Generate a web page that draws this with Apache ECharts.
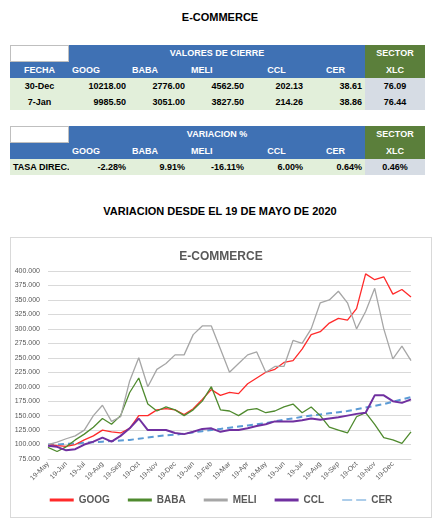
<!DOCTYPE html>
<html><head><meta charset="utf-8">
<script src="https://cdn.jsdelivr.net/npm/echarts@6/dist/echarts.min.js"></script>
<style>
body{margin:0;width:440px;height:527px;background:#fff;position:relative;font-family:"Liberation Sans",Arial,sans-serif;overflow:hidden}
.t{position:absolute;left:0;width:440px;text-align:center;font-weight:bold;font-size:11px;color:#000}
.c{position:absolute;box-sizing:border-box;font-weight:bold;font-size:9px;line-height:16px;white-space:nowrap;padding:0 3px}
#chart{position:absolute;left:10px;top:237px;width:422px;height:281px;border:1px solid #d9d9d9;box-sizing:border-box}
</style></head><body>
<div class="t" style="top:11px">E-COMMERCE</div>
<div class="t" style="top:205px">VARIACION DESDE EL 19 DE MAYO DE 2020</div>
<div id="tables"></div>
<div id="chart"></div>
<script>
const tickers=["GOOG","BABA","MELI","CCL","CER"];
const closeDates=["30-Dec","7-Jan"];
const closeVals=[["10218.00","2776.00","4562.50","202.13","38.61"],["9985.50","3051.00","3827.50","214.26","38.86"]];
const xlcVals=["76.09","76.44"];
const varVals=["-2.28%","9.91%","-16.11%","6.00%","0.64%"];
const xlcVar="0.46%";

const categories=["19-May","4-Jun","19-Jun","4-Jul","19-Jul","4-Aug","19-Aug","4-Sep","19-Sep","4-Oct","19-Oct","4-Nov","19-Nov","4-Dec","19-Dec","4-Jan","19-Jan","4-Feb","19-Feb","4-Mar","19-Mar","4-Apr","19-Apr","4-May","19-May","4-Jun","19-Jun","4-Jul","19-Jul","4-Aug","19-Aug","4-Sep","19-Sep","4-Oct","19-Oct","4-Nov","19-Nov","4-Dec","19-Dec","4-Jan","7-Jan"];
const goog=[100,98,97,100,108,115,125,122,120,128,150,150,160,162,160,152,162,178,195,185,190,188,205,215,225,230,242,245,265,290,295,310,318,315,335,395,385,390,360,368,355];
const baba=[95,88,96,108,118,130,145,135,150,190,215,170,158,165,160,150,160,175,200,160,158,150,160,162,155,158,165,170,155,165,150,130,125,120,148,155,135,112,108,102,122];
const meli=[100,104,110,115,125,150,168,140,148,210,250,200,230,240,255,255,290,305,305,265,225,240,255,260,225,235,235,280,275,300,345,350,365,345,300,330,370,300,248,270,245];
const ccl=[98,96,90,92,100,105,112,105,115,128,145,125,125,125,120,118,122,127,128,122,125,125,128,132,135,140,140,140,142,145,143,145,147,150,153,155,185,185,175,172,178];
const cer=[100,100,101,102,103,104,105,106,107,108,110,112,114,116,117,119,121,123,125,127,129,131,133,135,137,140,143,145,148,150,152,154,156,158,161,164,167,170,174,178,182];

const BLUE="#3f71b4",GREEN="#5b7f3b",LG="#e2efda",GR="#d6dce4";
const colX=[10,69,129,188,247,306,365,425];
const T=document.getElementById('tables');
function cell(ci,ce,y,h,txt,bg,col,align,border){
  const d=document.createElement('div');d.className='c';
  d.style.left=colX[ci]+'px';d.style.width=(colX[ce]-colX[ci])+'px';
  d.style.top=y+'px';d.style.height=h+'px';d.style.lineHeight=h+'px';
  d.style.background=bg;d.style.color=col;d.style.textAlign=align;
  if(border)d.style.border='1px solid #bfbfbf';
  d.textContent=txt;T.appendChild(d);
}
function header(y,title){
  cell(0,1,y,17,"","#fff","#000","center",true);
  cell(1,6,y,17,title,BLUE,"#fff","center");
  cell(6,7,y,17,"SECTOR",GREEN,"#fff","center");
  cell(0,1,y+17,16,y<100?"FECHA":"",BLUE,"#fff","center");
  tickers.forEach((t,i)=>cell(i+1,i+2,y+17,16,t,BLUE,"#fff",i<3?"left":"center"));
  cell(6,7,y+17,16,"XLC",GREEN,"#fff","center");
}
header(45,"VALORES DE CIERRE");
closeDates.forEach((d,r)=>{
  const y=78+r*16;
  cell(0,1,y,16,d,LG,"#000","center");
  closeVals[r].forEach((v,i)=>cell(i+1,i+2,y,16,v,LG,"#000","right"));
  cell(6,7,y,16,xlcVals[r],GR,"#000","center");
});
header(126,"VARIACION %");
cell(0,1,159,16,"TASA DIREC.",LG,"#000","left");
varVals.forEach((v,i)=>cell(i+1,i+2,159,16,v,LG,"#000","right"));
cell(6,7,159,16,xlcVar,GR,"#000","center");

const ch=echarts.init(document.getElementById('chart'));
const mk=(name,data,color,w,dash)=>({name,type:'line',data,showSymbol:false,symbol:'none',
  lineStyle:{color,width:w,type:dash?[6,4]:'solid'},itemStyle:{color},z:dash?1:2});
ch.setOption({
  animation:false,
  title:{text:'E-COMMERCE',left:'center',top:8,textStyle:{fontSize:12,fontWeight:'bold',color:'#595959'}},
  grid:{left:37,right:20,top:33,bottom:58},
  legend:{bottom:7,itemWidth:24,itemHeight:3,itemGap:18,icon:'rect',
    textStyle:{fontSize:10,color:'#595959',fontWeight:'bold'},
    data:['GOOG','BABA','MELI','CCL',{name:'CER',icon:'path://M0,0H10V1H0ZM14,0H24V1H14Z'}]},
  xAxis:{type:'category',data:categories,boundaryGap:false,
    axisLine:{lineStyle:{color:'#d9d9d9'}},axisTick:{show:false},
    axisLabel:{interval:(i)=>i%2===0&&i<40,rotate:45,fontSize:7,color:'#595959',margin:4}},
  yAxis:{type:'value',min:75,max:400,interval:25,
    axisLabel:{fontSize:7,color:'#595959',formatter:v=>v.toFixed(3)},
    splitLine:{lineStyle:{color:'#d9d9d9'}},axisLine:{show:false}},
  series:[mk('GOOG',goog,'#ff2a2a',1.3),mk('BABA',baba,'#4f8a2e',1.3),mk('MELI',meli,'#a6a6a6',1.3),
    mk('CCL',ccl,'#7030a0',2),mk('CER',cer,'#5b9bd5',2,true)]
});
</script></body></html>
